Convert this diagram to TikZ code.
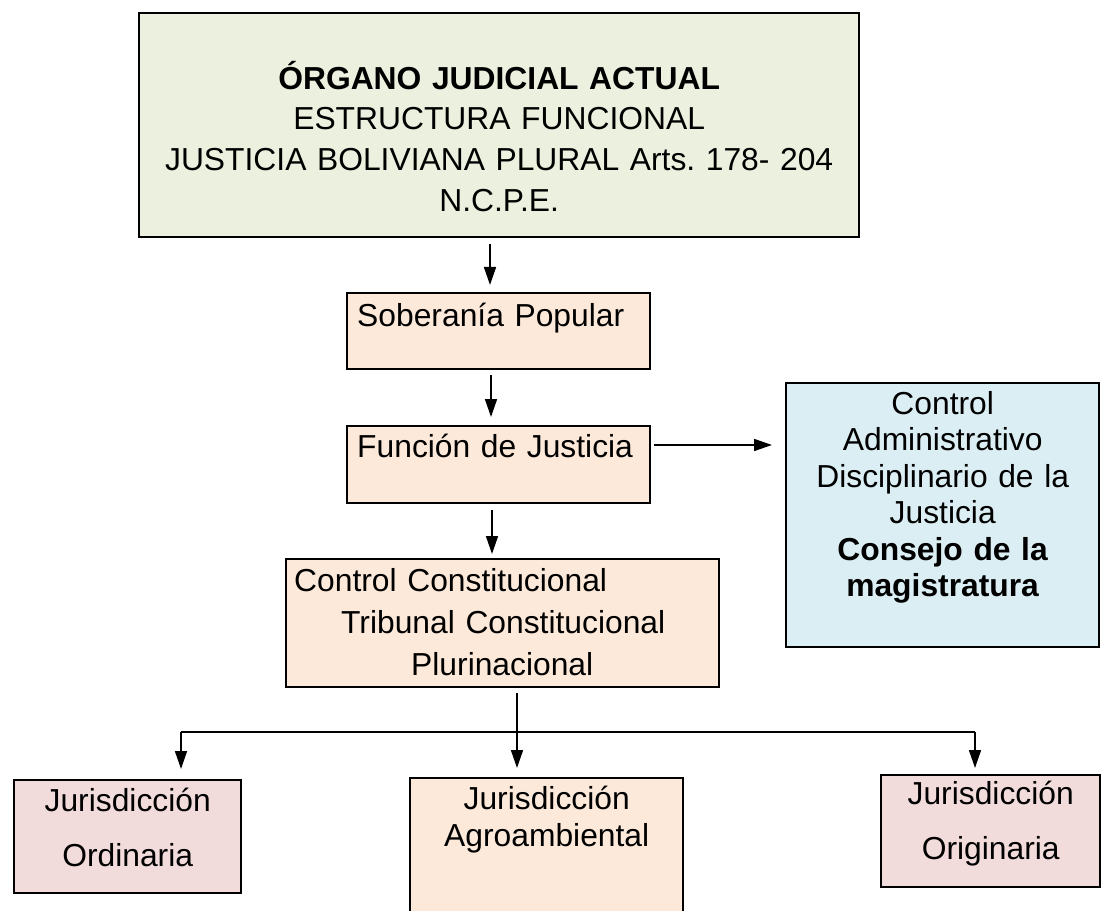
\documentclass[tikz,border=0pt]{standalone}
\usepackage{fontspec}
\setmainfont{Liberation Sans}
\usepackage{tikz}
\usetikzlibrary{arrows.meta}
\frenchspacing

\definecolor{greenfill}{HTML}{EBF1DE}
\definecolor{peachfill}{HTML}{FDE9D9}
\definecolor{bluefill}{HTML}{DAEEF3}
\definecolor{pinkfill}{HTML}{F2DCDB}

\begin{document}
\begin{tikzpicture}[x=0.02cm, y=-0.02cm,
    org box/.style={draw, line width=1.4pt, anchor=north west, inner sep=0pt, font=\fontsize{18.1}{23.2}\selectfont},
    arr/.style={-{Triangle[length=0.36cm, width=0.24cm]}, line width=0.9pt}]
    \useasboundingbox[fill=white] (0,0) rectangle (1102,911);

    \node[org box, fill=greenfill, align=center, text width=14.4cm, text height=1.52cm, text depth=2.96cm] (organo) at (138,12)
        {\textbf{ÓRGANO JUDICIAL ACTUAL}\\ESTRUCTURA FUNCIONAL\\JUSTICIA BOLIVIANA PLURAL Arts. 178- 204\\N.C.P.E.};
    \node[org box, fill=peachfill, align=left, inner xsep=0.2cm, text width=5.66cm, text height=0.66cm, text depth=0.86cm] (sober) at (346,292) {Soberanía Popular};
    \node[org box, fill=peachfill, align=left, inner xsep=0.2cm, text width=5.66cm, text height=0.62cm, text depth=0.92cm] (funcion) at (346,425) {Función de Justicia};
    \node[org box, fill=bluefill, align=center, text width=6.26cm, text height=0.62cm, text depth=4.66cm, font=\fontsize{18.1}{20.8}\selectfont] (consejo) at (785,382)
        {Control\\Administrativo\\Disciplinario de la\\Justicia\\\textbf{Consejo de la}\\\textbf{magistratura}};
    \node[org box, fill=peachfill, align=left, inner xsep=0.16cm, text width=8.34cm, text height=0.64cm, text depth=1.92cm, font=\fontsize{18.1}{24.1}\selectfont] (tcp) at (285,558)
        {Control Constitucional\\\hspace*{0.94cm}Tribunal Constitucional\\\hspace*{2.34cm}Plurinacional};

    \node[org box, fill=pinkfill, align=center, text width=4.54cm, text height=0.62cm, text depth=1.64cm, font=\fontsize{18.1}{31.2}\selectfont] (ordi) at (13,779) {Jurisdicción\\Ordinaria};
    \node[org box, fill=peachfill, align=center, text width=5.46cm, text height=0.62cm, text depth=2.2cm, font=\fontsize{18.1}{21}\selectfont] (agro) at (409,777) {Jurisdicción\\Agroambiental};
    \node[org box, fill=pinkfill, align=center, text width=4.38cm, text height=0.58cm, text depth=1.66cm, font=\fontsize{18.1}{31.2}\selectfont] (orig) at (880,774) {Jurisdicción\\Originaria};

    \draw[arr, shorten <=0.12cm, shorten >=0.14cm] (organo.south -| 490,0) -- (sober.north -| 490,0);
    \draw[arr, shorten <=0.1cm, shorten >=0.16cm] (sober.south -| 491,0) -- (funcion.north -| 491,0);
    \draw[arr, shorten <=0.12cm, shorten >=0.08cm] (funcion.south -| 492,0) -- (tcp.north -| 492,0);
    \draw[arr, shorten <=0.06cm, shorten >=0.26cm] (funcion.east |- 0,445) -- (consejo.west |- 0,445);
    \draw[arr, shorten <=0.1cm, shorten >=0.18cm] (tcp.south -| 517,0) -- (agro.north -| 517,0);

    \coordinate (split l) at (181,732);
    \coordinate (split r) at (975,732);
    \draw[line width=0.9pt] (split l) -- (split r);
    \draw[arr, shorten >=0.2cm] (split l) -- (split l |- ordi.north);
    \draw[arr, shorten >=0.12cm] (split r) -- (split r |- orig.north);

\end{tikzpicture}
\end{document}
